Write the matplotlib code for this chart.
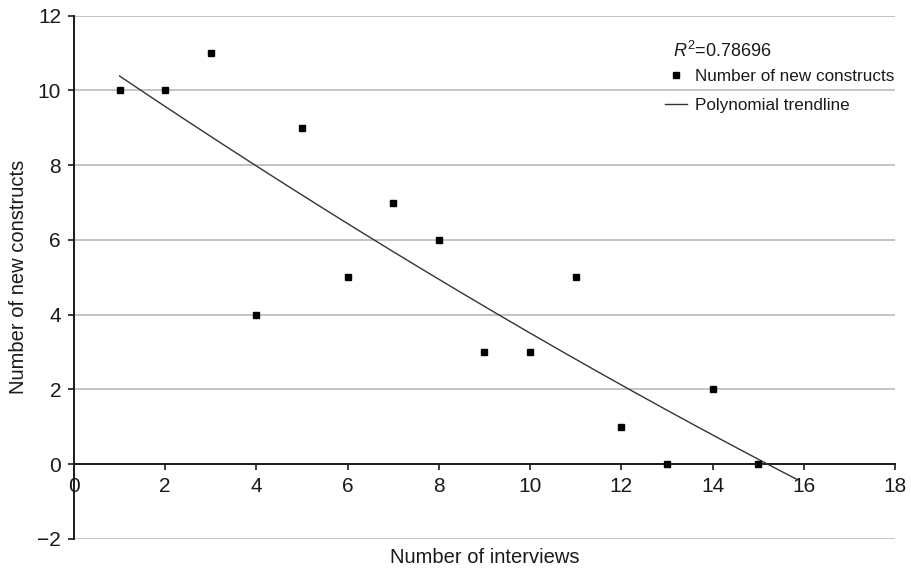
import numpy as np
import matplotlib
matplotlib.use("Agg")
import matplotlib.pyplot as plt
from matplotlib.lines import Line2D

# données
interviews = [1, 2, 3, 4, 5, 6, 7, 8, 9, 10, 11, 12, 13, 14, 15]
new_constructs = [10, 10, 11, 4, 9, 5, 7, 6, 3, 3, 5, 1, 0, 2, 0]
r2_label = "0.78696"
trend_start, trend_end = 1, 15.86

x_ticks = [0, 2, 4, 6, 8, 10, 12, 14, 16, 18]
y_ticks = [-2, 0, 2, 4, 6, 8, 10, 12]

plt.rcParams["font.family"] = ["Liberation Sans", "DejaVu Sans"]
plt.rcParams["mathtext.fontset"] = "custom"
plt.rcParams["mathtext.rm"] = "Liberation Sans"
plt.rcParams["mathtext.it"] = "Liberation Sans:italic"

INK = "#1a1a1a"


def main():
    fig = plt.figure(figsize=(9.12, 5.68), dpi=100)
    ax = fig.add_axes([0.0811, 0.0511, 0.9002, 0.9213])

    # tendance polynomiale (ordre 2)
    coef = np.polyfit(interviews, new_constructs, 2)
    xt = np.linspace(trend_start, trend_end, 200)
    ax.plot(xt, np.polyval(coef, xt), color="#333333", lw=1.0, zorder=3)

    ax.plot(interviews, new_constructs, ls="none", marker="s", ms=5,
            color="black", zorder=4)

    ax.set_xlim(0, 18)
    ax.set_ylim(-2, 12)
    ax.set_xticks(x_ticks)
    ax.set_yticks(y_ticks)
    ax.set_yticklabels(["\u22122" if v < 0 else str(v) for v in y_ticks])

    for v in y_ticks:
        if v != 0:
            ax.axhline(v, color="#c4c4c4", lw=1.4, zorder=1)

    for s in ("top", "right"):
        ax.spines[s].set_visible(False)
    ax.spines["bottom"].set_position(("data", 0))
    for s in ("left", "bottom"):
        ax.spines[s].set_linewidth(1.4)
        ax.spines[s].set_color(INK)
        ax.spines[s].set_zorder(2)

    ax.tick_params(axis="both", direction="out", length=4.3, width=1.2,
                   color=INK, labelsize=15, pad=5, labelcolor=INK)

    ax.set_xlabel("Number of interviews", fontsize=14.5, color=INK)
    ax.xaxis.set_label_coords(0.5, -0.0455, transform=ax.transAxes)
    ax.xaxis.label.set_va("baseline")
    ax.set_ylabel("Number of new constructs", fontsize=14.5, color=INK)
    ax.yaxis.set_label_coords(-0.0560, 0.5)

    ax.text(13.14, 11.05, r"$R^2$=" + r2_label, fontsize=13,
            va="center", ha="left", color=INK)

    handles = [
        Line2D([], [], ls="none", marker="s", ms=5, color="black"),
        Line2D([], [], color="#333333", lw=1.0),
    ]
    leg = ax.legend(handles, ["Number of new constructs", "Polynomial trendline"],
                    loc="upper left", bbox_to_anchor=(0.720, 0.898), frameon=False,
                    fontsize=12.3, borderpad=0, borderaxespad=0, handlelength=1.3,
                    handletextpad=0.45, labelspacing=0.8)
    for t in leg.get_texts():
        t.set_color(INK)

    fig.savefig("out.png", dpi=100)


if __name__ == "__main__":
    main()
